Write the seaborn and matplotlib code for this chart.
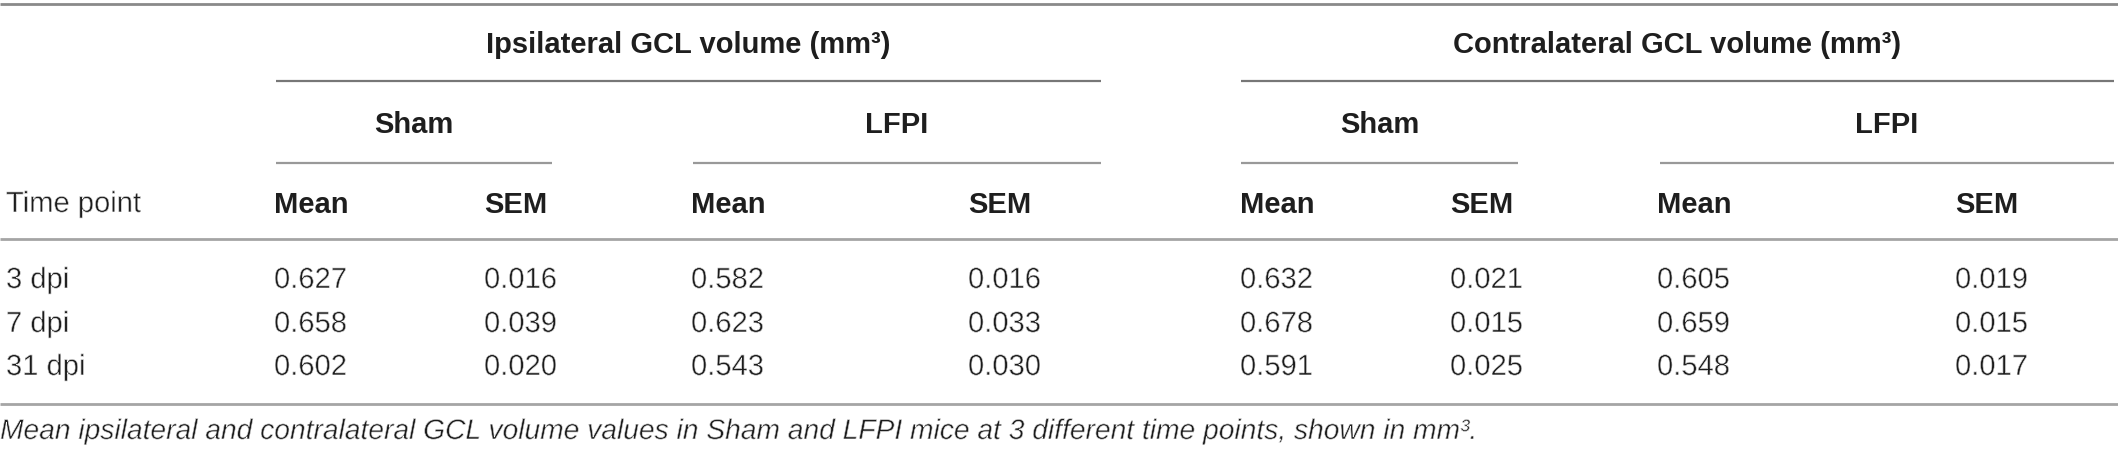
import matplotlib
matplotlib.use("Agg")
import matplotlib.pyplot as plt
import matplotlib.patheffects as pe
import seaborn as sns
import pandas as pd

# values of the table
time_points = ["3 dpi", "7 dpi", "31 dpi"]
ipsi_sham_mean = [0.627, 0.658, 0.602]
ipsi_sham_sem = [0.016, 0.039, 0.020]
ipsi_lfpi_mean = [0.582, 0.623, 0.543]
ipsi_lfpi_sem = [0.016, 0.033, 0.030]
contra_sham_mean = [0.632, 0.678, 0.591]
contra_sham_sem = [0.021, 0.015, 0.025]
contra_lfpi_mean = [0.605, 0.659, 0.548]
contra_lfpi_sem = [0.019, 0.015, 0.017]

group_labels = ["Ipsilateral GCL volume (mm³)", "Contralateral GCL volume (mm³)"]
sub_labels = ["Sham", "LFPI", "Sham", "LFPI"]
col_labels = ["Mean", "SEM", "Mean", "SEM", "Mean", "SEM", "Mean", "SEM"]
caption = ("Mean ipsilateral and contralateral GCL volume values in Sham and LFPI "
           "mice at 3 different time points, shown in mm³.")

df = pd.DataFrame({
    "time": time_points,
    "ipsi_sham_mean": ipsi_sham_mean, "ipsi_sham_sem": ipsi_sham_sem,
    "ipsi_lfpi_mean": ipsi_lfpi_mean, "ipsi_lfpi_sem": ipsi_lfpi_sem,
    "contra_sham_mean": contra_sham_mean, "contra_sham_sem": contra_sham_sem,
    "contra_lfpi_mean": contra_lfpi_mean, "contra_lfpi_sem": contra_lfpi_sem,
})

sns.set_theme(style="white")
plt.rcParams["font.family"] = ["Liberation Sans", "DejaVu Sans"]

W, H = 2118, 460
fig = plt.figure(figsize=(W / 100, H / 100), dpi=100)
ax = fig.add_axes([0, 0, 1, 1])
ax.set_xlim(0, W)
ax.set_ylim(H, 0)
ax.axis("off")

# layout (pixels)
x_first = 6
col_x = [274, 484, 691, 968, 1240, 1450, 1657, 1955]
sub_spans = [(276, 552), (693, 1101), (1241, 1518), (1660, 2114)]
group_spans = [(276, 1101), (1241, 2114)]
y_group, y_sub, y_head = 53, 133, 213
y_rows = [289, 333, 376]
y_caption = 440

fs = 21
bold_c = "#1e1e1e"
body_c = "#1c1c1c"
# thin the regular glyphs a little so they read like a light weight
light = [pe.Normal(), pe.Stroke(linewidth=0.45, foreground="white")]

# rules
ax.hlines(5, 0, W, color="#8a8a8a", lw=2)
ax.hlines([240, 405], 0, W, color="#a5a5a5", lw=2)
for a, b in group_spans:
    ax.hlines(82, a, b, color="#777777", lw=1.6)
for a, b in sub_spans:
    ax.hlines(164, a, b, color="#999999", lw=1.6)

# headers
for (a, b), lab in zip(group_spans, group_labels):
    ax.text((a + b) / 2, y_group, lab, ha="center", va="baseline",
            fontsize=fs, fontweight="bold", color=bold_c)
for (a, b), lab in zip(sub_spans, sub_labels):
    ax.text((a + b) / 2, y_sub, lab, ha="center", va="baseline",
            fontsize=fs, fontweight="bold", color=bold_c)
ax.text(x_first, y_head, "Time point", ha="left", va="baseline",
        fontsize=fs, color=body_c, path_effects=light)
for x, lab in zip(col_x, col_labels):
    ax.text(x, y_head, lab, ha="left", va="baseline",
            fontsize=fs, fontweight="bold", color=bold_c)

# body
value_cols = df.columns[1:]
for i, row in df.iterrows():
    ax.text(x_first, y_rows[i], row["time"], ha="left", va="baseline",
            fontsize=fs, color=body_c, path_effects=light)
    for x, c in zip(col_x, value_cols):
        ax.text(x, y_rows[i], f"{row[c]:.3f}", ha="left", va="baseline",
                fontsize=fs, color=body_c, path_effects=light)

ax.text(0, y_caption, caption, ha="left", va="baseline", fontsize=20.3,
        style="italic", color=body_c, path_effects=light)

fig.savefig("out.png", dpi=100)
